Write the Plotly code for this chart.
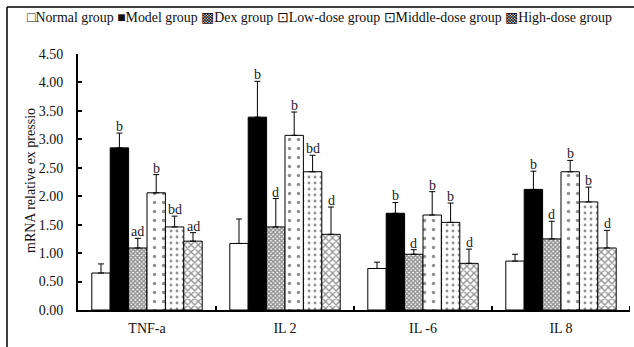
import plotly.graph_objects as go

categories = ["TNF-a", "IL 2", "IL -6", "IL 8"]
groups = ["Normal group", "Model group", "Dex group", "Low-dose group", "Middle-dose group", "High-dose group"]

normal = [0.65, 1.17, 0.73, 0.86]
model = [2.85, 3.39, 1.70, 2.12]
dex = [1.09, 1.46, 0.98, 1.25]
low = [2.06, 3.07, 1.67, 2.43]
middle = [1.46, 2.43, 1.54, 1.90]
high = [1.21, 1.33, 0.82, 1.09]

normal_err = [0.16, 0.43, 0.11, 0.12]
model_err = [0.26, 0.63, 0.19, 0.32]
dex_err = [0.17, 0.50, 0.08, 0.31]
low_err = [0.32, 0.41, 0.41, 0.20]
middle_err = [0.19, 0.29, 0.34, 0.26]
high_err = [0.15, 0.48, 0.25, 0.31]

normal_lab = ["", "", "", ""]
model_lab = ["b", "b", "b", "b"]
dex_lab = ["ad", "d", "d", "d"]
low_lab = ["b", "b", "b", "b"]
middle_lab = ["bd", "bd", "b", "b"]
high_lab = ["ad", "d", "d", "d"]

y_ticks = [0, 0.5, 1.0, 1.5, 2.0, 2.5, 3.0, 3.5, 4.0, 4.5]
y_ticktext = ["%.2f" % v for v in y_ticks]

values = [normal, model, dex, low, middle, high]
errors = [normal_err, model_err, dex_err, low_err, middle_err, high_err]
labels = [normal_lab, model_lab, dex_lab, low_lab, middle_lab, high_lab]

styles = [
    dict(color="white", pattern=dict(shape="")),
    dict(color="black", pattern=dict(shape="")),
    dict(color="white", pattern=dict(shape="x", size=3, solidity=0.7, fgcolor="#222", fillmode="overlay")),
    dict(color="white", pattern=dict(shape=".", size=9, solidity=0.12, fgcolor="#222", fillmode="overlay")),
    dict(color="white", pattern=dict(shape=".", size=6, solidity=0.18, fgcolor="#222", fillmode="overlay")),
    dict(color="white", pattern=dict(shape="x", size=5, solidity=0.45, fgcolor="#222", fillmode="overlay")),
]

SERIF = "Liberation Serif, Times New Roman, serif"
bargap = 0.2
n = len(groups)
w = (1 - bargap) / n
xs = list(range(len(categories)))

fig = go.Figure()
for j, g in enumerate(groups):
    st = styles[j]
    fig.add_trace(go.Bar(
        x=xs, y=values[j], name=g,
        marker=dict(color=st["color"], pattern=st["pattern"], line=dict(color="black", width=1)),
        error_y=dict(type="data", symmetric=False, array=errors[j], arrayminus=[0] * len(xs),
                     color="black", thickness=1, width=3),
        showlegend=False,
    ))

annotations = []
for j in range(n):
    for i in xs:
        if labels[j][i]:
            annotations.append(dict(
                x=i + (j - (n - 1) / 2) * w, y=values[j][i] + errors[j][i],
                xref="x", yref="y", text=labels[j][i], showarrow=False,
                yanchor="bottom", yshift=-3,
                font=dict(family=SERIF, size=14, color="#1a1a2a"),
            ))

# plot area geometry in pixels
L, R, T, B = 78, 4, 54, 37
W, H = 634, 347
pw, ph = W - L - R, H - T - B

def px(xp):
    return (xp - L) / pw

def py(yp):
    return (H - B - yp) / ph

legend_text = "□Normal group ■Model group ▩Dex group ⊡Low-dose group ⊡Middle-dose group ▩High-dose group"
annotations.append(dict(x=px(25), y=py(17), xref="paper", yref="paper", text=legend_text,
                        showarrow=False, xanchor="left", yanchor="middle",
                        font=dict(family=SERIF, size=13.9, color="#111")))
annotations.append(dict(x=px(30), y=py(181), xref="paper", yref="paper",
                        text="mRNA relative ex pressio", textangle=-90, showarrow=False,
                        xanchor="center", yanchor="middle",
                        font=dict(family=SERIF, size=14, color="#111")))

frame = [
    dict(type="line", xref="paper", yref="paper", x0=px(7), x1=px(634), y0=py(7), y1=py(7),
         line=dict(color="black", width=1.5)),
    dict(type="line", xref="paper", yref="paper", x0=px(7), x1=px(7), y0=py(7), y1=py(347),
         line=dict(color="black", width=1.5)),
]
for i in xs:
    frame.append(dict(type="line", xref="x", yref="paper", x0=i + 0.5, x1=i + 0.5,
                      y0=0, y1=4 / ph, line=dict(color="black", width=2)))

fig.update_layout(
    width=W, height=H,
    margin=dict(l=L, r=R, t=T, b=B),
    paper_bgcolor="white", plot_bgcolor="white",
    barmode="group", bargap=bargap, bargroupgap=0,
    annotations=annotations,
    shapes=frame,
    xaxis=dict(tickmode="array", tickvals=xs, ticktext=categories, range=[-0.5, len(xs) - 0.5],
               showline=True, linecolor="black", linewidth=2, showgrid=False, zeroline=False,
               ticks="", ticklabelstandoff=4, tickfont=dict(family=SERIF, size=14, color="#111")),
    yaxis=dict(range=[0, 4.5], tickmode="array", tickvals=y_ticks, ticktext=y_ticktext,
               showline=True, linecolor="black", linewidth=2, showgrid=False, zeroline=False,
               ticks="inside", ticklen=4, tickwidth=2, tickcolor="black", ticklabelstandoff=10,
               tickfont=dict(family=SERIF, size=14, color="#111")),
)

fig.write_html("out.html", config={"displayModeBar": False},
               post_script=("document.documentElement.style.overflow='hidden';"
                            "document.body.style.margin='0';document.body.style.overflow='hidden';"))
